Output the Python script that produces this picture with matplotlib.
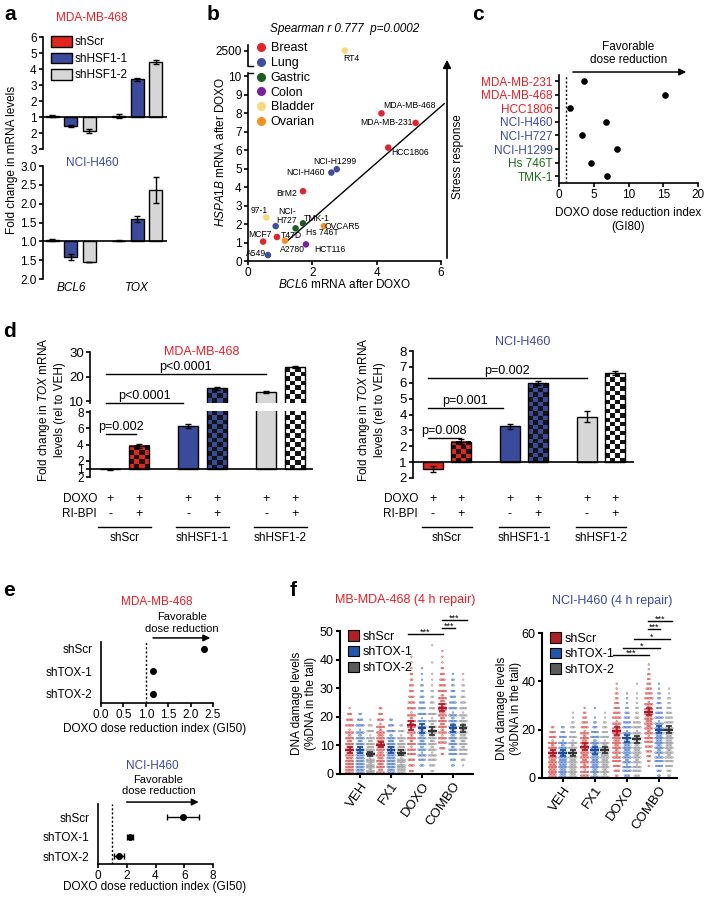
import numpy as np
import matplotlib
matplotlib.use("Agg")
import matplotlib.pyplot as plt
from matplotlib import transforms
from matplotlib.colors import ListedColormap
from matplotlib.patches import Patch
from matplotlib.lines import Line2D

plt.rcParams['font.family'] = ['Liberation Sans', 'DejaVu Sans']
plt.rcParams['mathtext.fontset'] = 'custom'
plt.rcParams['mathtext.rm'] = 'Liberation Sans'
plt.rcParams['mathtext.it'] = 'Liberation Sans:italic'
plt.rcParams['mathtext.bf'] = 'Liberation Sans:bold'
plt.rcParams['axes.linewidth'] = 1.2
plt.rcParams['xtick.major.width'] = 1.2
plt.rcParams['ytick.major.width'] = 1.2
plt.rcParams['xtick.major.size'] = 3
plt.rcParams['ytick.major.size'] = 3
plt.rcParams['xtick.major.pad'] = 1.5
plt.rcParams['ytick.major.pad'] = 1.5
plt.rcParams['font.size'] = 8

# ---------------- data ----------------
# a: fold change (negative = fold decrease)
a_series = ['shScr', 'shHSF1-1', 'shHSF1-2']
a_genes = ['BCL6', 'TOX']
a_mda = [[1.05, -1.56, -1.87], [1.05, 3.35, 4.45]]
a_mda_err = [[0.05, 0.05, 0.1], [0.12, 0.08, 0.12]]
a_h460 = [[1.03, -1.42, -1.55], [1.02, 1.6, 2.37]]
a_h460_err = [[0.03, 0.08, 0.01], [0.01, 0.08, 0.35]]

# b
b_names = ['RT4', 'MDA-MB-468', 'MDA-MB-231', 'HCC1806', 'NCI-H1299', 'NCI-H460',
           'BrM2', '97-1', 'NCI-\nH727', 'TMK-1', 'Hs 746T', 'OVCAR5', 'T47D',
           'MCF7', 'A2780', 'HCT116', 'A549']
b_bcl6 = [3.01, 4.15, 5.21, 4.36, 2.76, 2.59, 1.71, 0.57, 0.86, 1.71, 1.48, 2.36,
          0.90, 0.47, 1.15, 1.80, 0.62]
b_hspa1b = [2500, 8.0, 7.48, 6.14, 4.97, 4.79, 3.78, 2.36, 1.89, 2.04, 1.77, 1.89,
            1.30, 1.05, 1.10, 0.90, 0.32]
b_tissue = ['Bladder', 'Breast', 'Breast', 'Breast', 'Lung', 'Lung', 'Breast',
            'Bladder', 'Lung', 'Gastric', 'Gastric', 'Ovarian', 'Breast', 'Breast',
            'Ovarian', 'Colon', 'Lung']
b_fit_x = [1.25, 6.1]
b_fit_y = [1.13, 8.52]
tissues = ['Breast', 'Lung', 'Gastric', 'Colon', 'Bladder', 'Ovarian']
tissue_col = {'Breast': '#e8202a', 'Lung': '#3e4fa3', 'Gastric': '#1b5e20',
              'Colon': '#7b1fa2', 'Bladder': '#fad77e', 'Ovarian': '#f7901e'}

# c
c_lines = ['MDA-MB-231', 'MDA-MB-468', 'HCC1806', 'NCI-H460', 'NCI-H727',
           'NCI-H1299', 'Hs 746T', 'TMK-1']
c_dri = [3.6, 15.2, 1.6, 6.75, 3.3, 8.3, 4.6, 6.9]
c_tissue = ['Breast'] * 3 + ['Lung'] * 3 + ['Gastric'] * 2

# d
d_groups = ['shScr', 'shHSF1-1', 'shHSF1-2']
d_mda_doxo = [-1.05, 6.3, 13.7]
d_mda_doxo_err = [0.03, 0.3, 0.4]
d_mda_combo = [3.85, 15.2, 23.8]
d_mda_combo_err = [0.25, 0.5, 0.5]
d_h460_doxo = [-1.42, 3.25, 3.87]
d_h460_doxo_err = [0.2, 0.18, 0.35]
d_h460_combo = [2.28, 5.96, 6.6]
d_h460_combo_err = [0.15, 0.12, 0.12]

# e
e_rows = ['shScr', 'shTOX-1', 'shTOX-2']
e_mda = [2.3, 1.15, 1.17]
e_mda_err = [0.03, 0.02, 0.02]
e_h460 = [5.9, 2.2, 1.45]
e_h460_err = [1.1, 0.2, 0.35]

# f: counts of cells per 2 %-unit bin (0-2, 2-4, ...), one list per treatment
f_treat = ['VEH', 'FX1', 'DOXO', 'COMBO']
f_sh = ['shScr', 'shTOX-1', 'shTOX-2']
f_mda_scr = [[12, 12, 11, 10, 10, 9, 8, 7, 6, 5, 3, 1],
             [9, 10, 10, 10, 11, 11, 10, 8, 7, 5, 3, 2],
             [3, 4, 5, 6, 7, 8, 8, 9, 9, 8, 7, 6, 5, 4, 3, 3, 2, 2, 1, 1, 1],
             [0, 0, 0, 2, 4, 6, 7, 8, 9, 9, 10, 10, 9, 8, 6, 5, 4, 3, 2, 1, 1, 1]]
f_mda_tox1 = [[12, 12, 12, 11, 10, 9, 8, 7, 6, 4, 2],
              [11, 12, 12, 12, 11, 10, 8, 6, 4, 2],
              [0, 3, 5, 7, 8, 9, 9, 9, 8, 7, 6, 5, 4, 3, 2, 2, 1, 1, 1],
              [0, 2, 4, 6, 8, 9, 9, 9, 9, 8, 7, 6, 5, 4, 3, 2, 2, 1]]
f_mda_tox2 = [[14, 14, 13, 12, 11, 9, 7, 5, 3, 1],
              [12, 13, 13, 12, 11, 9, 7, 4, 2],
              [2, 4, 6, 7, 8, 9, 9, 9, 8, 7, 6, 4, 3, 2, 2, 1, 1, 1, 0, 1, 0, 0, 1],
              [0, 1, 3, 6, 8, 9, 10, 10, 9, 8, 7, 5, 4, 3, 2, 2, 1, 1]]
f_mda_mean = [[8.5, 8.3, 7.0], [10.3, 8.5, 7.5], [17.0, 16.0, 15.0], [23.2, 16.0, 16.0]]
f_mda_sem = [[1.0, 1.0, 0.8], [1.0, 1.0, 0.8], [1.6, 1.6, 1.4], [1.2, 1.2, 1.2]]

f_h460_scr = [[11, 11, 11, 10, 10, 9, 8, 7, 5, 4, 2],
              [6, 7, 8, 9, 10, 10, 10, 9, 8, 7, 5, 4, 3, 2, 1],
              [2, 4, 5, 6, 7, 8, 9, 10, 10, 9, 8, 7, 6, 5, 4, 3, 2, 2, 1, 1],
              [0, 0, 1, 2, 3, 4, 5, 6, 7, 8, 9, 10, 10, 9, 8, 7, 6, 5, 4, 3, 2, 2, 1, 1]]
f_h460_tox1 = [[10, 10, 11, 11, 10, 10, 8, 7, 5, 3, 2],
               [8, 9, 10, 10, 10, 10, 9, 8, 6, 5, 3, 2, 1, 0, 1],
               [4, 6, 7, 8, 9, 10, 10, 9, 8, 7, 6, 5, 4, 3, 2, 1, 1, 1],
               [2, 3, 5, 6, 7, 8, 9, 10, 10, 9, 8, 7, 6, 5, 4, 3, 2, 2, 1, 1]]
f_h460_tox2 = [[10, 10, 10, 10, 10, 9, 8, 7, 5, 4, 3, 2, 1, 1],
               [8, 9, 10, 10, 11, 10, 9, 7, 6, 4, 3, 2, 1, 1],
               [4, 6, 7, 8, 9, 10, 9, 9, 8, 7, 6, 5, 3, 2, 2, 1, 1, 1, 0, 1],
               [2, 3, 5, 6, 8, 9, 10, 10, 10, 9, 8, 6, 5, 4, 3, 2, 2, 1, 1]]
f_h460_mean = [[10.5, 10.5, 10.5], [13.0, 11.5, 11.5], [19.5, 16.5, 16.0], [27.5, 20.0, 20.0]]
f_h460_sem = [[1.2, 1.2, 1.2], [1.5, 1.5, 1.3], [1.5, 1.5, 1.5], [1.5, 1.5, 1.5]]

# ---------------- styles ----------------
RED = '#e3261c'
BLUE = '#3a4b9c'
LGRAY = '#d6d6d6'
DARK = '#151515'
T_RED = '#ee1c25'
T_BLUE = '#3a49a8'
T_GREEN = '#1d6b1d'
tcol = {'Breast': T_RED, 'Lung': T_BLUE, 'Gastric': T_GREEN}

W, H = 705, 900
fig = plt.figure(figsize=(W / 100, H / 100), dpi=100)


def axes_px(x0, y0, x1, y1):
    return fig.add_axes([x0 / W, 1 - y1 / H, (x1 - x0) / W, (y1 - y0) / H])


def ftext(x, y, s, **kw):
    kw.setdefault('ha', 'center')
    kw.setdefault('va', 'center')
    fig.text(x / W, 1 - y / H, s, **kw)


def plot_y(f):
    # fold change -> axis position (baseline at 1, decrease drawn below)
    return f if f > 0 else 2 + f


def fold_label(t, fmt):
    return fmt.format(t if t >= 1 else 2 - t)


def checker_bar(ax, x, w, y0, y1, c1, c2, cell=4.5):
    lo, hi = ax.get_ylim()
    xl = ax.get_xlim()
    b0, b1 = max(min(y0, y1), lo), min(max(y0, y1), hi)
    if b1 > b0:
        p0 = ax.transData.transform((x - w / 2, b0))
        p1 = ax.transData.transform((x + w / 2, b1))
        nx = max(1, int(round((p1[0] - p0[0]) / cell)))
        ny = max(1, int(round((p1[1] - p0[1]) / cell)))
        grid = np.indices((ny, nx)).sum(axis=0) % 2
        ax.imshow(grid, extent=(x - w / 2, x + w / 2, b0, b1), origin='lower',
                  cmap=ListedColormap([c1, c2]), interpolation='nearest',
                  aspect='auto', zorder=2)
    ax.bar(x, y1 - y0, bottom=y0, width=w, fill=False, edgecolor='k', lw=1, zorder=3)
    ax.set_xlim(xl)
    ax.set_ylim(lo, hi)


# ================= panel a =================
a_off = [-0.28, 0, 0.28]
a_cols = [RED, BLUE, LGRAY]
ax_a1 = axes_px(43, 37, 167, 149)
ax_a2 = axes_px(43, 166, 167, 279)
for ax, vals, errs, lim, ticks, fmt in [
        (ax_a1, a_mda, a_mda_err, (-1, 6), np.arange(-1, 7, 1), '{:.0f}'),
        (ax_a2, a_h460, a_h460_err, (0, 3), np.arange(0, 3.01, 0.5), '{:.1f}')]:
    for g in range(2):
        for s in range(3):
            y = plot_y(vals[g][s])
            ax.bar(g + a_off[s], y - 1, bottom=1, width=0.2, color=a_cols[s],
                   edgecolor='k', lw=1, zorder=2)
            ax.errorbar(g + a_off[s], y, yerr=errs[g][s], fmt='none', ecolor='k',
                        elinewidth=1, capsize=2.5, capthick=1, zorder=3)
    ax.axhline(1, color='k', lw=1.2, zorder=4)
    ax.set_xlim(-0.42, 1.45)
    ax.set_ylim(*lim)
    ax.set_yticks(ticks)
    ax.set_yticklabels([fold_label(t, fmt) for t in ticks], fontsize=8.5)
    for sp in ['top', 'right', 'bottom']:
        ax.spines[sp].set_visible(False)
    ax.set_xticks([])
ax_a2.set_xticks([0, 1])
ax_a2.set_xticklabels(a_genes, fontstyle='italic', fontsize=8.5)
ax_a2.tick_params(axis='x', length=0, pad=2)
ax_a1.legend([Patch(facecolor=c, edgecolor='k', lw=1) for c in a_cols], a_series,
             loc='upper left', bbox_to_anchor=(0.03, 1.05), frameon=False,
             fontsize=8.5, handlelength=1.7, handleheight=1.0, handletextpad=0.3,
             labelspacing=0.35, borderaxespad=0)
ftext(92, 18, 'MDA-MB-468', color=T_RED, fontsize=8.5)
ftext(92, 163, 'NCI-H460', color=T_BLUE, fontsize=8.5)
ftext(12, 160, 'Fold change in mRNA levels', rotation=90, fontsize=8.5)
ftext(10, 14, 'a', fontsize=15, fontweight='bold')

# ================= panel b =================
ax_b = axes_px(248, 45, 441, 261)
y_b = [v if v <= 10 else 11.4 for v in b_hspa1b]
for i, n in enumerate(b_names):
    ax_b.scatter(b_bcl6[i], y_b[i], s=22, color=tissue_col[b_tissue[i]], zorder=3,
                 clip_on=False, edgecolor='none')
ax_b.plot(b_fit_x, b_fit_y, color='k', lw=1, zorder=2, clip_on=False)
b_off = {'RT4': (7, -8), 'MDA-MB-468': (28, 8), 'MDA-MB-231': (-29, 0),
         'HCC1806': (22, -5), 'NCI-H1299': (-2, 8), 'NCI-H460': (-26, 0),
         'BrM2': (-16, -2), '97-1': (-7, 7), 'NCI-\nH727': (11, 10),
         'TMK-1': (14, 5), 'Hs 746T': (27, -4), 'OVCAR5': (18, 0), 'T47D': (14, 2),
         'MCF7': (-3, 7), 'A2780': (7, -9), 'HCT116': (24, -5), 'A549': (-12, 2)}
for i, n in enumerate(b_names):
    ax_b.annotate(n, (b_bcl6[i], y_b[i]), xytext=b_off[n], textcoords='offset pixels',
                  ha='center', va='center', fontsize=6.2, linespacing=1.0, zorder=4)
ax_b.set_xlim(0, 6)
ax_b.set_ylim(0, 11.7)
ax_b.set_xticks([0, 2, 4, 6])
ax_b.set_yticks(list(range(11)) + [11.4])
ax_b.set_yticklabels([str(i) for i in range(11)] + ['2500'])
ax_b.tick_params(labelsize=8.5)
for sp in ['top', 'right']:
    ax_b.spines[sp].set_visible(False)
ax_b.spines['left'].set_bounds(0, 10.2)
bt = transforms.blended_transform_factory(ax_b.transAxes, ax_b.transData)
ax_b.plot([0, 0], [10.55, 11.7], color='k', lw=1.2, transform=bt, clip_on=False)
ax_b.plot([0, 0.025], [10.2, 10.2], color='k', lw=1, transform=bt, clip_on=False)
ax_b.plot([0, 0.025], [10.55, 10.55], color='k', lw=1, transform=bt, clip_on=False)
ax_b.legend([Line2D([], [], marker='o', ls='none', color=tissue_col[t], markersize=5.5)
             for t in tissues], tissues, loc='upper left', bbox_to_anchor=(0.0, 1.035),
            frameon=False, fontsize=9, handletextpad=0.2, labelspacing=0.22,
            borderaxespad=0, handlelength=1.2)
ax_b.annotate('', xy=(447, H - 57), xytext=(447, H - 261), xycoords='figure pixels',
              textcoords='figure pixels',
              arrowprops=dict(arrowstyle='-|>', color='k', lw=1.2, mutation_scale=12))
ftext(458, 157, 'Stress response', rotation=90, fontsize=8.5)
ftext(345, 29, 'Spearman r 0.777  p=0.0002', fontstyle='italic', fontsize=8.5)
ftext(345, 285, r'$\it{BCL6}$ mRNA after DOXO', fontsize=8.5)
ftext(220, 152, r'$\it{HSPA1B}$ mRNA after DOXO', rotation=90, fontsize=8.5)
ftext(213, 14, 'b', fontsize=15, fontweight='bold')

# ================= panel c =================
ax_c = axes_px(559, 75, 698, 183)
rows_c = np.arange(len(c_lines))
ax_c.scatter(c_dri, rows_c, s=14, color='k', zorder=3)
ax_c.axvline(1, color='k', lw=1, ls=(0, (1.5, 1.5)))
ax_c.set_xlim(0, 20)
ax_c.set_ylim(7.5, -0.45)
ax_c.set_xticks([0, 5, 10, 15, 20])
ax_c.set_yticks(rows_c)
ax_c.set_yticklabels(c_lines, fontsize=8.5)
for lab, t in zip(ax_c.get_yticklabels(), c_tissue):
    lab.set_color(tcol[t])
ax_c.tick_params(axis='x', labelsize=8.5)
for sp in ['top', 'right']:
    ax_c.spines[sp].set_visible(False)
ax_c.annotate('', xy=(18.7, -0.67), xytext=(1.6, -0.67), annotation_clip=False,
              arrowprops=dict(arrowstyle='-|>', color='k', lw=1.1, mutation_scale=10))
ax_c.text(10, -2.05, 'Favorable\ndose reduction', ha='center', va='center',
          fontsize=8.5, linespacing=1.1)
ftext(628, 220, 'DOXO dose reduction index\n(GI80)', fontsize=8.5, linespacing=1.3)
ftext(478, 14, 'c', fontsize=15, fontweight='bold')


# ================= panel d =================
def d_panel(ax_list, xspan, vals_doxo, err_doxo, vals_combo, err_combo, gap):
    pos = []
    for g in range(3):
        pos.append((g * gap, g * gap + 1))
    cols = [RED, BLUE, LGRAY]
    checks = [(RED, DARK), (BLUE, DARK), ('white', DARK)]
    for ax in ax_list:
        ax.set_xlim(*xspan)
    for ax in ax_list:
        lo, hi = ax.get_ylim()
        for g in range(3):
            x0, x1 = pos[g]
            y = plot_y(vals_doxo[g])
            ax.bar(x0, y - 1, bottom=1, width=0.69, color=cols[g], edgecolor='k',
                   lw=1, zorder=2)
            if lo < y < hi:
                ax.errorbar(x0, y, yerr=err_doxo[g], fmt='none', ecolor='k',
                            elinewidth=1, capsize=2.5, capthick=1, zorder=4)
            y = plot_y(vals_combo[g])
            checker_bar(ax, x1, 0.69, 1, y, checks[g][0], checks[g][1])
            if lo < y < hi:
                ax.errorbar(x1, y, yerr=err_combo[g], fmt='none', ecolor='k',
                            elinewidth=1, capsize=2.5, capthick=1, zorder=4)
        ax.set_xticks([])
        for sp in ['top', 'right', 'bottom']:
            ax.spines[sp].set_visible(False)
    return pos


def d_rows(ax, pos, label_x):
    tr = transforms.blended_transform_factory(ax.transData, fig.transFigure)
    for g, (x0, x1) in enumerate(pos):
        ax.text(x0, 1 - 499 / H, '+', transform=tr, ha='center', va='center', fontsize=9)
        ax.text(x1, 1 - 499 / H, '+', transform=tr, ha='center', va='center', fontsize=9)
        ax.text(x0, 1 - 514 / H, '-', transform=tr, ha='center', va='center', fontsize=9)
        ax.text(x1, 1 - 514 / H, '+', transform=tr, ha='center', va='center', fontsize=9)
        ax.plot([x0 - 0.4, x1 + 0.4], [1 - 527 / H] * 2, transform=tr, color='k',
                lw=1, clip_on=False)
        ax.text((x0 + x1) / 2, 1 - 538 / H, d_groups[g], transform=tr, ha='center',
                va='center', fontsize=8.5)
    ftext(label_x, 499, 'DOXO', ha='right', fontsize=8.5)
    ftext(label_x, 514, 'RI-BPI', ha='right', fontsize=8.5)


def bracket(ax, xa, xb, y, txt, fs=8.5, dy=0.0):
    ax.plot([xa, xb], [y, y], color='k', lw=1, clip_on=False, zorder=5)
    ax.annotate(txt, ((xa + xb) / 2, y), xytext=(0, 1 + dy), textcoords='offset points',
                ha='center', va='bottom', fontsize=fs, annotation_clip=False)


ax_d1t = axes_px(90, 352, 313, 403)
ax_d1b = axes_px(90, 411, 313, 477)
ax_d1t.set_ylim(9.2, 30)
ax_d1b.set_ylim(0, 8.15)
pos_l = d_panel([ax_d1t, ax_d1b], (-0.69, 7.0), d_mda_doxo, d_mda_doxo_err,
                d_mda_combo, d_mda_combo_err, 2.69)
ax_d1t.set_yticks([10, 20, 30])
ax_d1b.set_yticks([0, 1, 2, 4, 6, 8])
ax_d1b.set_yticklabels(['2', '1', '2', '4', '6', '8'])
ax_d1b.axhline(1, color='k', lw=1.2, zorder=5)
ax_d1t.tick_params(labelsize=9.5)
ax_d1b.tick_params(labelsize=8.5)
bracket(ax_d1t, -0.15, 5.38, 21, 'p<0.0001', fs=9)
bracket(ax_d1t, -0.15, 2.5, 9.2, 'p<0.0001', fs=9)
bracket(ax_d1b, -0.15, 0.9, 5.3, 'p=0.002', fs=9)
d_rows(ax_d1b, pos_l, 97)
ftext(202, 352, 'MDA-MB-468', color=T_RED, fontsize=9)
ftext(51, 410, 'Fold change in $\\it{TOX}$ mRNA\nlevels (rel to VEH)', rotation=90,
      fontsize=8.5, linespacing=1.25)
ftext(9, 332, 'd', fontsize=15, fontweight='bold')

ax_d2 = axes_px(413, 351, 634, 478)
ax_d2.set_ylim(0, 8)
pos_r = d_panel([ax_d2], (-0.71, 7.18), d_h460_doxo, d_h460_doxo_err,
                d_h460_combo, d_h460_combo_err, 2.75)
ax_d2.set_yticks(range(9))
ax_d2.set_yticklabels(['2'] + [str(i) for i in range(1, 9)])
ax_d2.axhline(1, color='k', lw=1.2, zorder=5)
ax_d2.tick_params(labelsize=9.5)
bracket(ax_d2, -0.18, 5.5, 6.3, 'p=0.002', fs=9)
bracket(ax_d2, -0.18, 2.5, 4.4, 'p=0.001', fs=9)
bracket(ax_d2, -0.18, 1.0, 2.5, 'p=0.008', fs=9)
d_rows(ax_d2, pos_r, 418)
ftext(523, 342, 'NCI-H460', color=T_BLUE, fontsize=9)
ftext(371, 410, 'Fold change in $\\it{TOX}$ mRNA\nlevels (rel to VEH)', rotation=90,
      fontsize=8.5, linespacing=1.25)


# ================= panel e =================
def e_panel(ax, vals, errs, xlim, xticks, fmt, arrow_y, ax0, ax1, text_xy):
    rows = np.arange(len(e_rows))
    ax.errorbar(vals, rows, xerr=errs, fmt='o', color='k', markersize=4,
                elinewidth=1, capsize=2.5, zorder=3)
    ax.axvline(1, color='k', lw=1, ls=(0, (1.5, 1.5)))
    ax.set_xlim(*xlim)
    ax.set_xticks(xticks)
    ax.set_xticklabels([fmt.format(t) for t in xticks])
    ax.set_yticks(rows)
    ax.set_yticklabels(e_rows)
    ax.tick_params(labelsize=8.5)
    ax.tick_params(axis='y', length=0, pad=6)
    for sp in ['top', 'right']:
        ax.spines[sp].set_visible(False)
    ax.annotate('', xy=(ax1, arrow_y), xytext=(ax0, arrow_y), annotation_clip=False,
                arrowprops=dict(arrowstyle='-|>', color='k', lw=1.1, mutation_scale=10))
    ax.text(text_xy[0], text_xy[1], 'Favorable\ndose reduction', ha='center',
            va='center', fontsize=8, linespacing=1.15)


ax_e1 = axes_px(101, 642, 213, 703)
ax_e1.set_ylim(2.4, -0.31)
e_panel(ax_e1, e_mda, e_mda_err, (0, 2.5), [0, 0.5, 1.0, 1.5, 2.0, 2.5], '{:.1f}',
        -0.49, 1.1, 2.5, (1.81, -1.15))
ax_e2 = axes_px(98, 804, 213, 864)
ax_e2.set_ylim(2.4, -0.67)
e_panel(ax_e2, e_h460, e_h460_err, (0, 8), [0, 2, 4, 6, 8], '{:.0f}',
        -0.77, 1.8, 7.2, (4.2, -1.6))
ftext(157, 602, 'MDA-MB-468', color=T_RED, fontsize=8.5)
ftext(152, 766, 'NCI-H460', color=T_BLUE, fontsize=8.5)
ftext(155, 729, 'DOXO dose reduction index (GI50)', fontsize=8.5)
ftext(155, 887, 'DOXO dose reduction index (GI50)', fontsize=8.5)
ftext(9, 591, 'e', fontsize=15, fontweight='bold')

# ================= panel f =================
f_pt = ['#d9534f', '#4f7fcc', '#9a9a9a']
f_dark = ['#b2182b', '#1f4ea0', '#333333']
f_leg = ['#b51d24', '#1f56b0', '#5a5a5a']


def swarm(ax, xc, counts, color, binw=2.0, lane=0.22, per_row=6):
    xs, ys = [], []
    for j, n in enumerate(counts):
        if n == 0:
            continue
        nrows = int(np.ceil(n / per_row))
        left = n
        for r in range(nrows):
            k = min(per_row, left)
            left -= k
            y = (j + (r + 0.5) / nrows) * binw
            half = lane / 2 * (k - 1) / (per_row - 1)
            xs.extend(np.linspace(xc - half, xc + half, k))
            ys.extend([y] * k)
    ax.scatter(xs, ys, s=1.3, facecolors='none', edgecolors=color, linewidths=0.45,
               zorder=2)


def f_panel(ax, series, means, sems, off, ylim, yticks):
    for t in range(4):
        for s in range(3):
            xc = t + off[s]
            swarm(ax, xc, series[s][t], f_pt[s])
            ax.hlines(means[t][s], xc - 0.14, xc + 0.14, color=f_dark[s], lw=1.6, zorder=3)
            ax.errorbar(xc, means[t][s], yerr=sems[t][s], fmt='none', ecolor=f_dark[s],
                        elinewidth=1.2, capsize=2.2, capthick=1.2, zorder=3)
    ax.set_ylim(*ylim)
    ax.set_yticks(yticks)
    ax.set_xticks(range(4))
    ax.set_xticklabels(f_treat, rotation=55, ha='right', rotation_mode='anchor',
                       fontsize=9.5)
    ax.tick_params(axis='y', labelsize=9)
    ax.tick_params(width=1.5)
    for sp in ['top', 'right']:
        ax.spines[sp].set_visible(False)
    for sp in ['left', 'bottom']:
        ax.spines[sp].set_linewidth(1.5)
    ax.legend([Patch(facecolor=c, edgecolor='k', lw=0.8) for c in f_leg], f_sh,
              loc='upper left', bbox_to_anchor=(0.02, 1.04), frameon=False, fontsize=9,
              handlelength=0.9, handleheight=0.9, handletextpad=0.3,
              labelspacing=0.25, borderaxespad=0)


ax_f1 = axes_px(340, 631, 473, 774)
ax_f1.set_xlim(-0.65, 3.65)
f_panel(ax_f1, [f_mda_scr, f_mda_tox1, f_mda_tox2], f_mda_mean, f_mda_sem,
        [-0.34, 0, 0.33], (0, 50), [0, 10, 20, 30, 40, 50])
bracket(ax_f1, 1.55, 2.67, 48.8, '***', fs=6.5, dy=-3)
bracket(ax_f1, 2.65, 3.08, 51.2, '***', fs=6.5, dy=-3)
bracket(ax_f1, 2.65, 3.45, 54.0, '***', fs=6.5, dy=-3)
ftext(405, 600, 'MB-MDA-468 (4 h repair)', color=T_RED, fontsize=9)
ftext(304, 703, 'DNA damage levels\n(%DNA in the tail)', rotation=90, fontsize=8.5,
      linespacing=1.2)

ax_f2 = axes_px(542, 633, 677, 778)
ax_f2.set_xlim(-0.65, 3.56)
f_panel(ax_f2, [f_h460_scr, f_h460_tox1, f_h460_tox2], f_h460_mean, f_h460_sem,
        [-0.32, 0, 0.31], (0, 60), [0, 20, 40, 60])
bracket(ax_f2, 1.56, 2.69, 50.8, '***', fs=6.5, dy=-3)
bracket(ax_f2, 1.88, 3.03, 54.0, '*', fs=6.5, dy=-3)
bracket(ax_f2, 2.22, 3.34, 57.4, '*', fs=6.5, dy=-3)
bracket(ax_f2, 2.66, 3.03, 61.5, '***', fs=6.5, dy=-3)
bracket(ax_f2, 2.66, 3.41, 65.0, '***', fs=6.5, dy=-3)
ftext(612, 601, 'NCI-H460 (4 h repair)', color=T_BLUE, fontsize=9)
ftext(509, 708, 'DNA damage levels\n(%DNA in the tail)', rotation=90, fontsize=8.5,
      linespacing=1.2)
ftext(293, 590, 'f', fontsize=15, fontweight='bold')

fig.savefig('out.png', dpi=100)
